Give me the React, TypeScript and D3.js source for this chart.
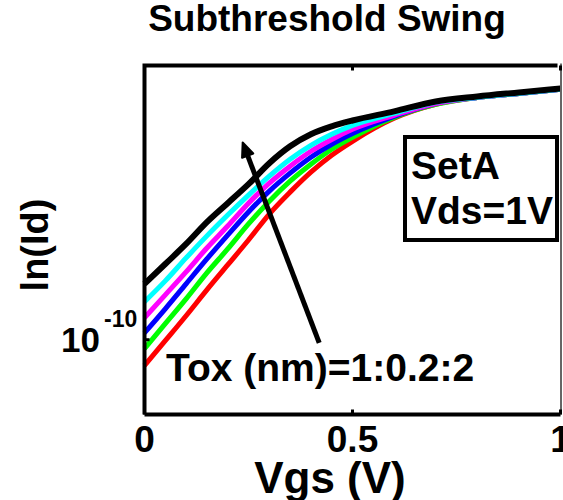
import React from 'react';
import * as d3 from 'd3';

// gate voltage samples (V)
const vgs = [0, 0.05, 0.1, 0.15, 0.2, 0.25, 0.3, 0.35, 0.4, 0.45, 0.5, 0.6, 0.7, 0.8, 0.9, 1.0];

// drain current (A) for each oxide thickness
const idTox10 = [5.50e-11, 9.77e-11, 1.74e-10, 3.16e-10, 5.62e-10, 1.00e-9, 1.82e-9, 3.02e-9, 4.79e-9, 7.08e-9, 9.77e-9, 1.66e-8, 2.29e-8, 2.69e-8, 2.95e-8, 3.24e-8];
const idTox12 = [8.13e-11, 1.45e-10, 2.57e-10, 4.68e-10, 8.13e-10, 1.45e-9, 2.45e-9, 3.89e-9, 5.75e-9, 8.13e-9, 1.07e-8, 1.70e-8, 2.29e-8, 2.69e-8, 2.95e-8, 3.24e-8];
const idTox14 = [1.17e-10, 2.04e-10, 3.63e-10, 6.46e-10, 1.12e-9, 1.91e-9, 3.09e-9, 4.68e-9, 6.76e-9, 9.12e-9, 1.17e-8, 1.74e-8, 2.34e-8, 2.69e-8, 2.95e-8, 3.24e-8];
const idTox16 = [1.66e-10, 2.82e-10, 4.79e-10, 8.32e-10, 1.38e-9, 2.34e-9, 3.72e-9, 5.50e-9, 7.76e-9, 1.02e-8, 1.29e-8, 1.78e-8, 2.34e-8, 2.69e-8, 2.95e-8, 3.24e-8];
const idTox18 = [2.40e-10, 3.89e-10, 6.61e-10, 1.10e-9, 1.78e-9, 2.82e-9, 4.37e-9, 6.46e-9, 8.91e-9, 1.15e-8, 1.41e-8, 1.86e-8, 2.40e-8, 2.69e-8, 2.95e-8, 3.24e-8];
const idTox20 = [3.63e-10, 5.75e-10, 9.12e-10, 1.51e-9, 2.34e-9, 3.63e-9, 5.89e-9, 8.71e-9, 1.15e-8, 1.38e-8, 1.58e-8, 1.95e-8, 2.45e-8, 2.75e-8, 3.02e-8, 3.31e-8];

const toxValues = [1.0, 1.2, 1.4, 1.6, 1.8, 2.0];
const lineColors = ['#ff0000', '#00ff00', '#0000ff', '#ff00ff', '#00ffff', '#000000'];
const currents = [idTox10, idTox12, idTox14, idTox16, idTox18, idTox20];

const xTicks = [0, 0.5, 1];
const xTickLabels = ['0', '0.5', '1'];
const yTicks = [1e-10];

// arrow annotation, data coords (tail -> head)
const arrowTail = [0.42, 9.3e-11];
const arrowHead = [0.236, 9.5e-9];

const W = 563;
const H = 500;
const FONT = '"Liberation Sans", Arial, Helvetica, sans-serif';

export default function App() {
  const x = d3.scaleLinear().domain([0, 1]).range([144.5, 560.5]);
  const y = d3.scaleLog().domain([Math.pow(10, -10.75), Math.pow(10, -7.25)]).range([414.5, 65.5]);

  const line = d3.line<number>()
    .x((d, i) => x(vgs[i]))
    .y(d => y(d))
    .curve(d3.curveMonotoneX);

  const left = x(0), right = x(1), top = y.range()[1], bottom = y.range()[0];

  // arrow geometry
  const tx = x(arrowTail[0]), ty = y(arrowTail[1]);
  const hx = x(arrowHead[0]), hy = y(arrowHead[1]);
  const ang = Math.atan2(hy - ty, hx - tx);
  const hl = 14, hw = 6;
  const bx = hx - hl * Math.cos(ang), by = hy - hl * Math.sin(ang);
  const head = [
    [hx, hy],
    [bx + hw * Math.sin(ang), by - hw * Math.cos(ang)],
    [bx - hw * Math.sin(ang), by + hw * Math.cos(ang)],
  ];

  return (
    <svg width={W} height={H} style={{ position: 'absolute', left: 0, top: 0, background: '#fff' }}
      fontFamily={FONT} fontWeight="bold">
      <rect width={W} height={H} fill="#fff" />
      <text x={327} y={31} fontSize={37} textAnchor="middle">Subthreshold Swing</text>

      {currents.map((vals, i) => (
        <path key={toxValues[i]} d={line(vals) || ''} fill="none"
          stroke={lineColors[i]} strokeWidth={i === 5 ? 6 : 5} strokeLinejoin="round" />
      ))}

      {/* axes box */}
      <path d={`M${left},${bottom}V${top}H${right - 3}`} fill="none" stroke="#000" strokeWidth={4} />
      <path d={`M${left},${bottom}H${right}`} fill="none" stroke="#000" strokeWidth={4} />
      <line x1={right + 0.5} x2={right + 0.5} y1={top - 2} y2={bottom} stroke="#666" strokeWidth={2} />

      {xTicks.map((t, i) => (
        <g key={t}>
          <line x1={x(t)} x2={x(t)} y1={bottom} y2={bottom - 5} stroke="#000" strokeWidth={3} />
          <line x1={x(t)} x2={x(t)} y1={top} y2={top + 5} stroke="#000" strokeWidth={3} />
          <text x={x(t)} y={452} fontSize={37} textAnchor="middle">{xTickLabels[i]}</text>
        </g>
      ))}
      {yTicks.map(t => (
        <g key={t}>
          <line x1={left} x2={left + 5} y1={y(t)} y2={y(t)} stroke="#000" strokeWidth={3} />
          <text x={100} y={y(t) + 12} fontSize={35} textAnchor="end">10</text>
          <text x={104} y={y(t) - 13} fontSize={23}>-{Math.round(-Math.log10(t))}</text>
        </g>
      ))}

      <text x={330} y={493} fontSize={44} textAnchor="middle">Vgs (V)</text>
      <text transform="translate(48,245) rotate(-90)" fontSize={38} textAnchor="middle">ln(Id)</text>

      {/* legend box */}
      <rect x={405} y={137} width={152} height={103} fill="#fff" stroke="#000" strokeWidth={4} />
      <text x={411} y={179} fontSize={39}>SetA</text>
      <text x={411} y={224} fontSize={39}>Vds=1V</text>

      {/* arrow */}
      <line x1={tx} y1={ty} x2={bx} y2={by} stroke="#000" strokeWidth={5} />
      <polygon points={head.map(p => p.join(',')).join(' ')} fill="#000" stroke="#000" strokeWidth={2} strokeLinejoin="round" />
      <text x={166} y={381} fontSize={39}>Tox (nm)=1:0.2:2</text>
    </svg>
  );
}
